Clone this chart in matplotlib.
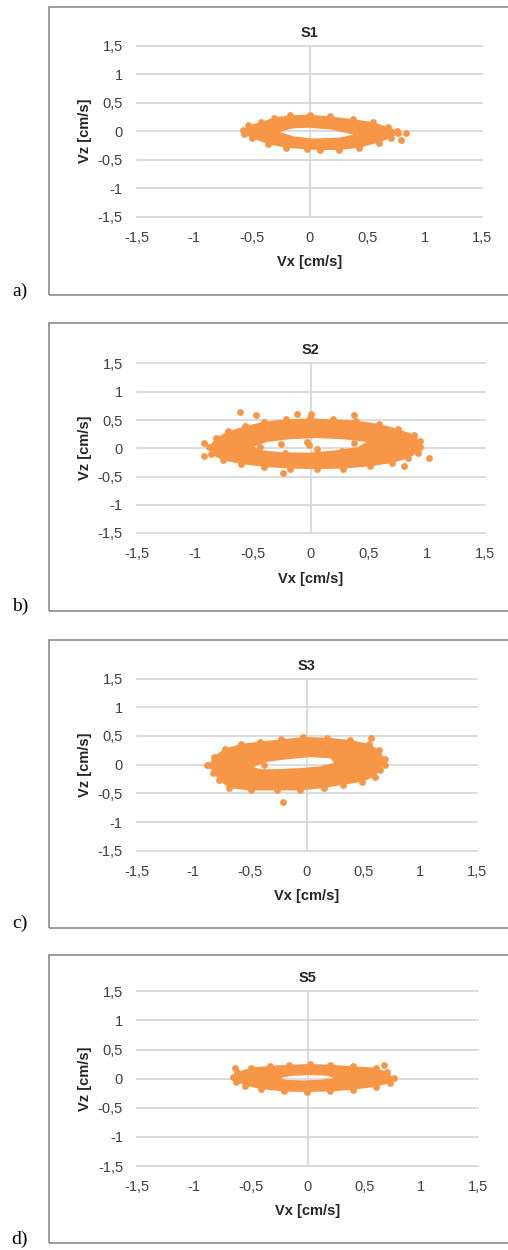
import numpy as np
import matplotlib.pyplot as plt
from matplotlib.path import Path
from matplotlib.patches import PathPatch, Rectangle

# panel titles, letters and ticks
titles = ["S1", "S2", "S3", "S5"]
letters = ["a)", "b)", "c)", "d)"]
tick_vals = [-1.5, -1.0, -0.5, 0.0, 0.5, 1.0, 1.5]
tick_text = ["-1,5", "-1", "-0,5", "0", "0,5", "1", "1,5"]
xlabel = "Vx [cm/s]"
ylabel = "Vz [cm/s]"

# S1: outer edge of the cloud, edge of the hole, stray points
s1_outer_x = [-0.58, -0.53, -0.42, -0.31, -0.17, 0.00, 0.18, 0.38, 0.55, 0.68, 0.76,
              0.77, 0.71, 0.60, 0.43, 0.26, 0.09, -0.02, -0.20, -0.36, -0.50, -0.57]
s1_outer_z = [0.02, 0.10, 0.16, 0.24, 0.28, 0.29, 0.26, 0.21, 0.16, 0.07, 0.01,
              -0.04, -0.12, -0.20, -0.29, -0.33, -0.33, -0.32, -0.29, -0.23, -0.12, -0.05]
s1_hole_x = [-0.26, -0.14, 0.00, 0.18, 0.38, 0.27, 0.03, -0.14]
s1_hole_z = [-0.01, 0.05, 0.06, 0.03, -0.06, -0.11, -0.13, -0.09]
s1_extra_x = [0.84, 0.79]
s1_extra_z = [-0.03, -0.16]

# S2
s2_outer_x = [-0.88, -0.82, -0.71, -0.57, -0.40, -0.21, -0.01, 0.19, 0.39, 0.59, 0.75, 0.89, 0.94,
              0.94, 0.92, 0.84, 0.70, 0.51, 0.28, 0.05, -0.18, -0.40, -0.60, -0.76, -0.86]
s2_outer_z = [0.02, 0.18, 0.30, 0.39, 0.47, 0.51, 0.53, 0.51, 0.49, 0.43, 0.34, 0.24, 0.12,
              0.02, -0.08, -0.18, -0.26, -0.32, -0.36, -0.37, -0.36, -0.33, -0.28, -0.21, -0.11]
s2_hole_x = [-0.49, -0.38, -0.18, 0.05, 0.28, 0.48, 0.40, 0.20, -0.03, -0.26, -0.44]
s2_hole_z = [0.03, 0.11, 0.16, 0.18, 0.16, 0.11, 0.02, -0.04, -0.08, -0.07, -0.03]
s2_extra_x = [-0.61, -0.47, -0.92, -0.92, 1.02, -0.24, 0.37, -0.12, 0.00, 0.80,
              -0.03, -0.02, 0.05, -0.26, -0.22, 0.27, 0.37, -0.44]
s2_extra_z = [0.64, 0.59, 0.09, -0.13, -0.17, -0.44, 0.58, 0.60, 0.60, -0.31,
              0.11, 0.05, -0.01, 0.08, -0.09, -0.04, 0.09, 0.02]

# S3
s3_outer_x = [-0.86, -0.82, -0.72, -0.58, -0.41, -0.23, -0.03, 0.18, 0.38, 0.55, 0.64, 0.69,
              0.69, 0.65, 0.60, 0.49, 0.32, 0.15, -0.06, -0.26, -0.49, -0.69, -0.77, -0.83]
s3_outer_z = [0.00, 0.14, 0.28, 0.36, 0.40, 0.44, 0.48, 0.47, 0.43, 0.36, 0.25, 0.10,
              0.00, -0.09, -0.21, -0.30, -0.35, -0.41, -0.45, -0.45, -0.45, -0.41, -0.27, -0.14]
s3_hole_x = [-0.47, -0.35, -0.18, 0.03, 0.21, 0.24, 0.12, -0.06, -0.27, -0.41]
s3_hole_z = [-0.04, 0.05, 0.09, 0.13, 0.11, 0.03, -0.03, -0.06, -0.08, -0.08]
s3_extra_x = [-0.21, 0.57, 0.29, -0.38, -0.88]
s3_extra_z = [-0.65, 0.46, 0.07, 0.00, 0.00]

# S5
s5_outer_x = [-0.66, -0.62, -0.50, -0.33, -0.16, 0.02, 0.20, 0.40, 0.60, 0.70,
              0.76, 0.72, 0.60, 0.40, 0.20, -0.01, -0.21, -0.41, -0.55, -0.63]
s5_outer_z = [0.03, 0.11, 0.19, 0.22, 0.24, 0.25, 0.24, 0.21, 0.19, 0.11,
              0.01, -0.08, -0.14, -0.19, -0.22, -0.23, -0.22, -0.18, -0.12, -0.05]
s5_hole_x = [-0.24, -0.13, 0.02, 0.17, 0.23, 0.11, -0.04, -0.19]
s5_hole_z = [0.01, 0.05, 0.06, 0.05, 0.01, -0.02, -0.03, -0.02]
s5_extra_x = [0.67, -0.64]
s5_extra_z = [0.23, 0.18]

clouds = [
    (s1_outer_x, s1_outer_z, s1_hole_x, s1_hole_z, s1_extra_x, s1_extra_z),
    (s2_outer_x, s2_outer_z, s2_hole_x, s2_hole_z, s2_extra_x, s2_extra_z),
    (s3_outer_x, s3_outer_z, s3_hole_x, s3_hole_z, s3_extra_x, s3_extra_z),
    (s5_outer_x, s5_outer_z, s5_hole_x, s5_hole_z, s5_extra_x, s5_extra_z),
]

W, H = 508, 1250
orange = "#F79646"
grid_c = "#d9d9d9"
sans = ["Liberation Sans Narrow", "Liberation Sans", "DejaVu Sans"]
serif = ["Liberation Serif", "DejaVu Serif"]

# layout in pixels: plot area (left, top, right, bottom), frame (top, bottom), letter y
plot_boxes = [(136.7, 45.7, 482.3, 216.7),
              (136.7, 363.5, 485.0, 533.0),
              (136.7, 678.5, 476.7, 850.7),
              (137.0, 991.3, 478.3, 1166.0)]
frames = [(7, 295), (322.7, 611), (640, 928), (955, 1243)]
letter_y = [291.5, 606, 923, 1239]

fig = plt.figure(figsize=(W / 100, H / 100), dpi=100)
fig.patch.set_facecolor("white")


def fx(x):
    return x / W


def fy(y):
    return 1 - y / H


def ring(ox, oz, ix, iz):
    outer = list(zip(ox, oz))
    inner = list(zip(ix, iz))[::-1]
    verts = outer + [outer[0]] + inner + [inner[0]]
    codes = ([Path.MOVETO] + [Path.LINETO] * (len(outer) - 1) + [Path.CLOSEPOLY]
             + [Path.MOVETO] + [Path.LINETO] * (len(inner) - 1) + [Path.CLOSEPOLY])
    return Path(verts, codes)


for i in range(4):
    l, t, r, b = plot_boxes[i]
    ft, fb = frames[i]

    # outer frame (runs off the right edge)
    fig.patches.append(Rectangle((fx(48.7), fy(fb)), fx(520 - 48.7), (fb - ft) / H,
                                 transform=fig.transFigure, fill=False,
                                 edgecolor="#8c8c8c", lw=1.2))

    ax = fig.add_axes([fx(l), fy(b), fx(r - l), (b - t) / H])
    ax.set_xlim(-1.5, 1.5)
    ax.set_ylim(-1.5, 1.5)
    for s in ax.spines.values():
        s.set_visible(False)
    for v in tick_vals:
        ax.axhline(v, color=grid_c, lw=1.3, zorder=1, clip_on=False)
    ax.axvline(0, color=grid_c, lw=1.3, zorder=1, clip_on=False)

    ox, oz, ix, iz, ex, ez = clouds[i]
    ax.add_patch(PathPatch(ring(ox, oz, ix, iz), facecolor=orange, edgecolor="none", zorder=2))
    ax.scatter(ox, oz, s=24, color=orange, lw=0, zorder=3)
    ax.scatter(ex, ez, s=24, color=orange, lw=0, zorder=3)

    ax.set_xticks(tick_vals)
    ax.set_xticklabels(tick_text, family=sans, fontsize=10.5, color="#404040")
    ax.set_yticks(tick_vals)
    ax.set_yticklabels(tick_text, family=sans, fontsize=10.5, color="#404040")
    ax.tick_params(length=0, pad=10)

    x0 = l + (r - l) / 2
    fig.text(fx(x0), fy(t - 13), titles[i], family=sans, fontsize=10.5, fontweight="bold",
             ha="center", va="center", color="#262626")
    fig.text(fx(x0), fy(b + 45.5), xlabel, family=sans, fontsize=10.5, fontweight="bold",
             ha="center", va="center", color="#262626")
    fig.text(fx(85), fy((t + b) / 2), ylabel, family=sans, fontsize=10.5, fontweight="bold",
             rotation=90, ha="center", va="center", color="#262626")
    fig.text(fx(20), fy(letter_y[i]), letters[i], family=serif, fontsize=14,
             ha="center", va="center", color="black")

fig.savefig("out.png", dpi=100)
